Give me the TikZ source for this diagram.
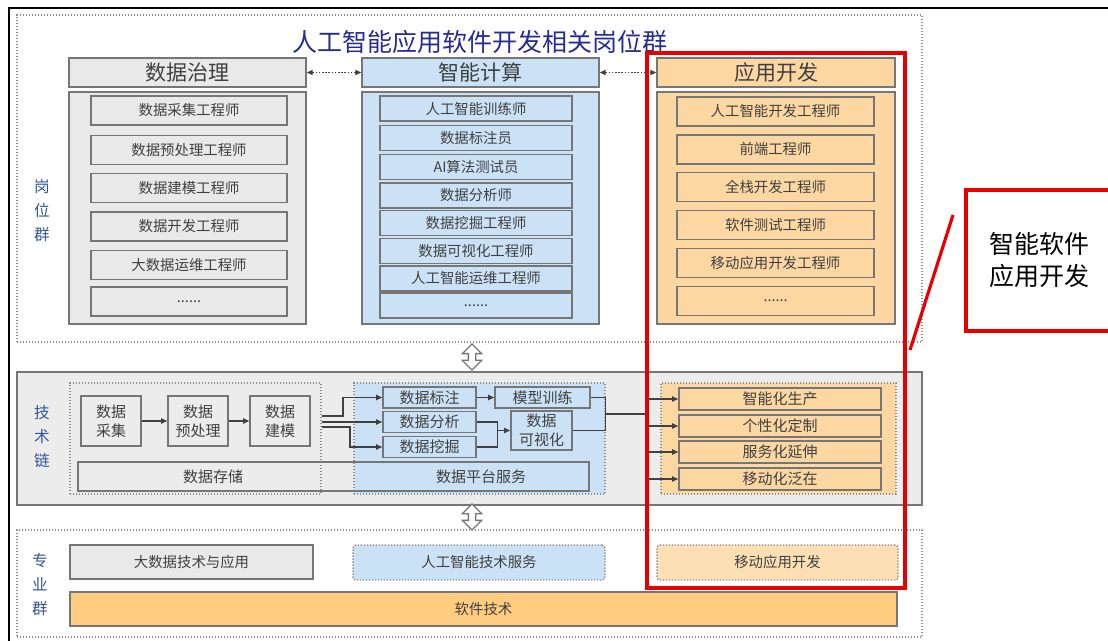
\documentclass[tikz,border=0pt]{standalone}
\usepackage{fontspec}
\setmainfont{Noto Sans CJK SC}
\usepackage{tikz}
\usetikzlibrary{arrows.meta, positioning, shapes.arrows}
\definecolor{edge}{RGB}{118,118,118}
\definecolor{dotc}{RGB}{140,140,140}
\definecolor{ink}{RGB}{64,64,64}
\definecolor{grayf}{RGB}{233,233,233}
\definecolor{chainf}{RGB}{236,236,236}
\definecolor{bluef}{RGB}{203,226,246}
\definecolor{orgf}{RGB}{252,215,162}
\definecolor{orglight}{RGB}{253,223,180}
\definecolor{barf}{RGB}{255,204,128}
\definecolor{titleblue}{RGB}{38,45,145}
\definecolor{sideblue}{RGB}{50,85,155}
\definecolor{hotred}{RGB}{232,0,0}

\begin{document}
\begin{tikzpicture}[x=0.5pt, y=-0.5pt,
    box/.style={rectangle, draw=edge, line width=0.7pt, inner sep=0pt, align=center,
                text=ink, font=\fontsize{7.2}{9}\selectfont},
    hdr/.style={box, minimum width=118.5pt, minimum height=14.5pt, font=\fontsize{10.5}{12}\selectfont},
    col/.style={box, minimum width=118.5pt, minimum height=116pt},
    job/.style={box, line width=0.9pt, minimum width=98pt, minimum height=14.5pt},
    aijob/.style={box, line width=0.9pt, minimum width=96pt, minimum height=12.5pt},
    appjob/.style={box, line width=0.9pt, minimum width=98.5pt, minimum height=14.5pt},
    tbox/.style={box, line width=0.8pt, font=\fontsize{7.5}{9.5}\selectfont},
    grp/.style={rectangle, draw=dotc, line width=0.7pt, dash pattern=on 0.7pt off 0.8pt, inner sep=0pt},
    mgrp/.style={grp, rounded corners=1.5pt, text=ink, font=\fontsize{7.2}{9}\selectfont,
                 minimum height=17.5pt},
    side/.style={align=center, text=sideblue, font=\fontsize{7.8}{12}\selectfont},
    ln/.style={draw=ink, line width=0.6pt},
    ar/.style={ln, -{Triangle[length=3pt, width=2.6pt]}},
    dar/.style={ln, dash pattern=on 0.8pt off 0.8pt,
                {Triangle[length=3pt, width=2.6pt]}-{Triangle[length=3pt, width=2.6pt]}},
    hollow/.style={shape=double arrow, rotate=90, draw=edge, fill=white, line width=0.7pt,
                   inner sep=1.5pt, minimum height=13pt, double arrow head extend=3pt},
    hot/.style={draw=hotred, line width=1.6pt}
]
\fill[white] (0,0) rectangle (1108,641);
\useasboundingbox (0,0) rectangle (1108,641);
\draw[line width=1.1pt] (9,641) -- (9,8) -- (1108,8);

% posts
\node[grp, minimum width=452.5pt, minimum height=163.5pt] (posts) at (469.5,178.5) {};
\node[text=titleblue, font=\fontsize{12.5}{14}\selectfont] (title) at (480,42) {人工智能应用软件开发相关岗位群};
\node[side] (s1) at (42,211) {岗\\位\\群};

\node[hdr, fill=grayf] (h1) at (187.5,72.5) {数据治理};
\node[hdr, fill=bluef] (h2) at (480.5,72.5) {智能计算};
\node[hdr, fill=orgf, minimum width=119pt] (h3) at (776,72.5) {应用开发};
\draw[dar] (h1) -- (h2); \draw[dar] (h2) -- (h3);

\node[col, fill=grayf] (c1) at (187.5,208) {};
\node[col, fill=bluef] (c2) at (480.5,208) {};
\node[col, fill=orgf, minimum width=119pt] (c3) at (776,208) {};

\node[job, fill=grayf] (g1) at (189,110.5) {数据采集工程师};
\node[job, fill=grayf] (g2) at (189,150) {数据预处理工程师};
\node[job, fill=grayf] (g3) at (189,188) {数据建模工程师};
\node[job, fill=grayf] (g4) at (189,226.5) {数据开发工程师};
\node[job, fill=grayf] (g5) at (189,265) {大数据运维工程师};
\node[job, fill=grayf] (g6) at (189,301.5) {......};

\node[aijob, fill=bluef] (a1) at (476,108.5) {人工智能训练师};
\node[aijob, fill=bluef] (a2) at (476,138) {数据标注员};
\node[aijob, fill=bluef] (a3) at (476,167) {AI算法测试员};
\node[aijob, fill=bluef] (a4) at (476,195.5) {数据分析师};
\node[aijob, fill=bluef] (a5) at (476,223) {数据挖掘工程师};
\node[aijob, fill=bluef] (a6) at (476,251) {数据可视化工程师};
\node[aijob, fill=bluef] (a7) at (476,278.5) {人工智能运维工程师};
\node[aijob, fill=bluef] (a8) at (476,305.5) {......};

\node[appjob, fill=orgf] (d1) at (775.5,111.5) {人工智能开发工程师};
\node[appjob, fill=orgf] (d2) at (775.5,149.5) {前端工程师};
\node[appjob, fill=orgf] (d3) at (775.5,187) {全栈开发工程师};
\node[appjob, fill=orgf] (d4) at (775.5,225) {软件测试工程师};
\node[appjob, fill=orgf] (d5) at (775.5,263) {移动应用开发工程师};
\node[appjob, fill=orgf] (d6) at (775.5,301) {......};

\node[hollow] (ud1) at (472,357) {};

% chain
\node[box, fill=chainf, minimum width=452.5pt, minimum height=66.5pt] (chain) at (469.5,438.5) {};
\node[side] (s2) at (42,437) {技\\术\\链};
\node[grp, minimum width=125.5pt, minimum height=55.5pt] (lg) at (195.5,438.5) {};
\node[grp, fill=bluef, minimum width=125.5pt, minimum height=55.5pt] (bg) at (479.5,438.5) {};
\node[grp, fill=orgf, minimum width=117.5pt, minimum height=55.5pt] (og) at (778.5,438.5) {};

\node[tbox, minimum width=30pt, minimum height=25pt] (cj) at (111,421) {数据\\采集};
\node[tbox, minimum width=30pt, minimum height=25pt] (yc) at (198,421) {数据\\预处理};
\node[tbox, minimum width=30pt, minimum height=25pt] (jm) at (280,421) {数据\\建模};
\draw[ar] (cj) -- (yc); \draw[ar] (yc) -- (jm);

\node[tbox, minimum width=255.5pt, minimum height=14.5pt] (cc) at (333.5,476.5) {};
\node[text=ink, font=\fontsize{7.5}{9}\selectfont] (cc1) at (213,477) {数据存储};
\node[text=ink, font=\fontsize{7.5}{9}\selectfont] (cc2) at (481,477) {数据平台服务};

\node[tbox, fill=bluef, minimum width=46.5pt, minimum height=10.5pt] (bz) at (429.5,397.5) {数据标注};
\node[tbox, fill=bluef, minimum width=46.5pt, minimum height=10.5pt] (fx) at (429.5,422) {数据分析};
\node[tbox, fill=bluef, minimum width=46.5pt, minimum height=10.5pt] (wj) at (429.5,447) {数据挖掘};
\node[tbox, fill=bluef, minimum width=47.5pt, minimum height=10.5pt] (mx) at (542.5,397.5) {模型训练};
\node[tbox, fill=bluef, minimum width=30.5pt, minimum height=19.5pt] (ks) at (541.5,430.5) {数据\\可视化};

\node[tbox, fill=orgf, minimum width=101pt, minimum height=11pt] (zn) at (780,399) {智能化生产};
\node[tbox, fill=orgf, minimum width=101pt, minimum height=11pt] (gx) at (780,426) {个性化定制};
\node[tbox, fill=orgf, minimum width=101pt, minimum height=11pt] (fw) at (780,452) {服务化延伸};
\node[tbox, fill=orgf, minimum width=101pt, minimum height=11pt] (yd) at (780,479) {移动化泛在};

\coordinate (o1) at (322,416);
\coordinate (o2) at (lg.east |- fx.west);
\coordinate (o3) at (322,427);
\draw[ar] (o1) -- ++(21,0) |- (bz.west);
\draw[ar] (o2) -- (fx.west);
\draw[ar] (o3) -- ++(28,0) |- (wj.west);
\draw[ar] (bz) -- (mx);
\draw[ln] (fx.east) -- ++(21,0) coordinate (j1) |- (wj.east);
\draw[ar] (j1 |- ks.west) -- (ks.west);
\draw[ln] (mx.east) -- ++(15,0) coordinate (j2) |- (ks.east);
\coordinate (b0) at (648,414);
\draw[ln] (b0 -| j2) -- (b0);
\draw[ln] (b0 |- zn.west) -- (b0 |- yd.west);
\draw[ar] (b0 |- zn.west) -- (zn.west);
\draw[ar] (b0 |- gx.west) -- (gx.west);
\draw[ar] (b0 |- fw.west) -- (fw.west);
\draw[ar] (b0 |- yd.west) -- (yd.west);

\node[hollow] (ud2) at (472,517) {};

% majors
\node[grp, minimum width=452.5pt, minimum height=53.5pt] (major) at (469.5,583.5) {};
\node[side] (s3) at (40,585) {专\\业\\群};
\node[box, fill=grayf, minimum width=121.5pt, minimum height=17pt] (m1) at (191.5,562) {大数据技术与应用};
\node[mgrp, fill=bluef, minimum width=126pt] (m2) at (479,562.5) {人工智能技术服务};
\node[mgrp, fill=orglight, minimum width=120.5pt] (m3) at (777.5,562.5) {移动应用开发};
\node[box, fill=barf, minimum width=413.5pt, minimum height=17pt] (m4) at (483.5,609) {软件技术};

% focus
\node[hot, minimum width=129pt, minimum height=267.5pt, inner sep=0pt] (focus) at (776,320.5) {};
\node[hot, minimum width=73pt, minimum height=70.5pt, align=center,
      font=\fontsize{12.5}{16}\selectfont] (note) at (1039,260.5) {智能软件\\应用开发};
\coordinate (p1) at (910,350);
\coordinate (p2) at (953,215);
\draw[hot] (p1) -- (p2);
\end{tikzpicture}
\end{document}
